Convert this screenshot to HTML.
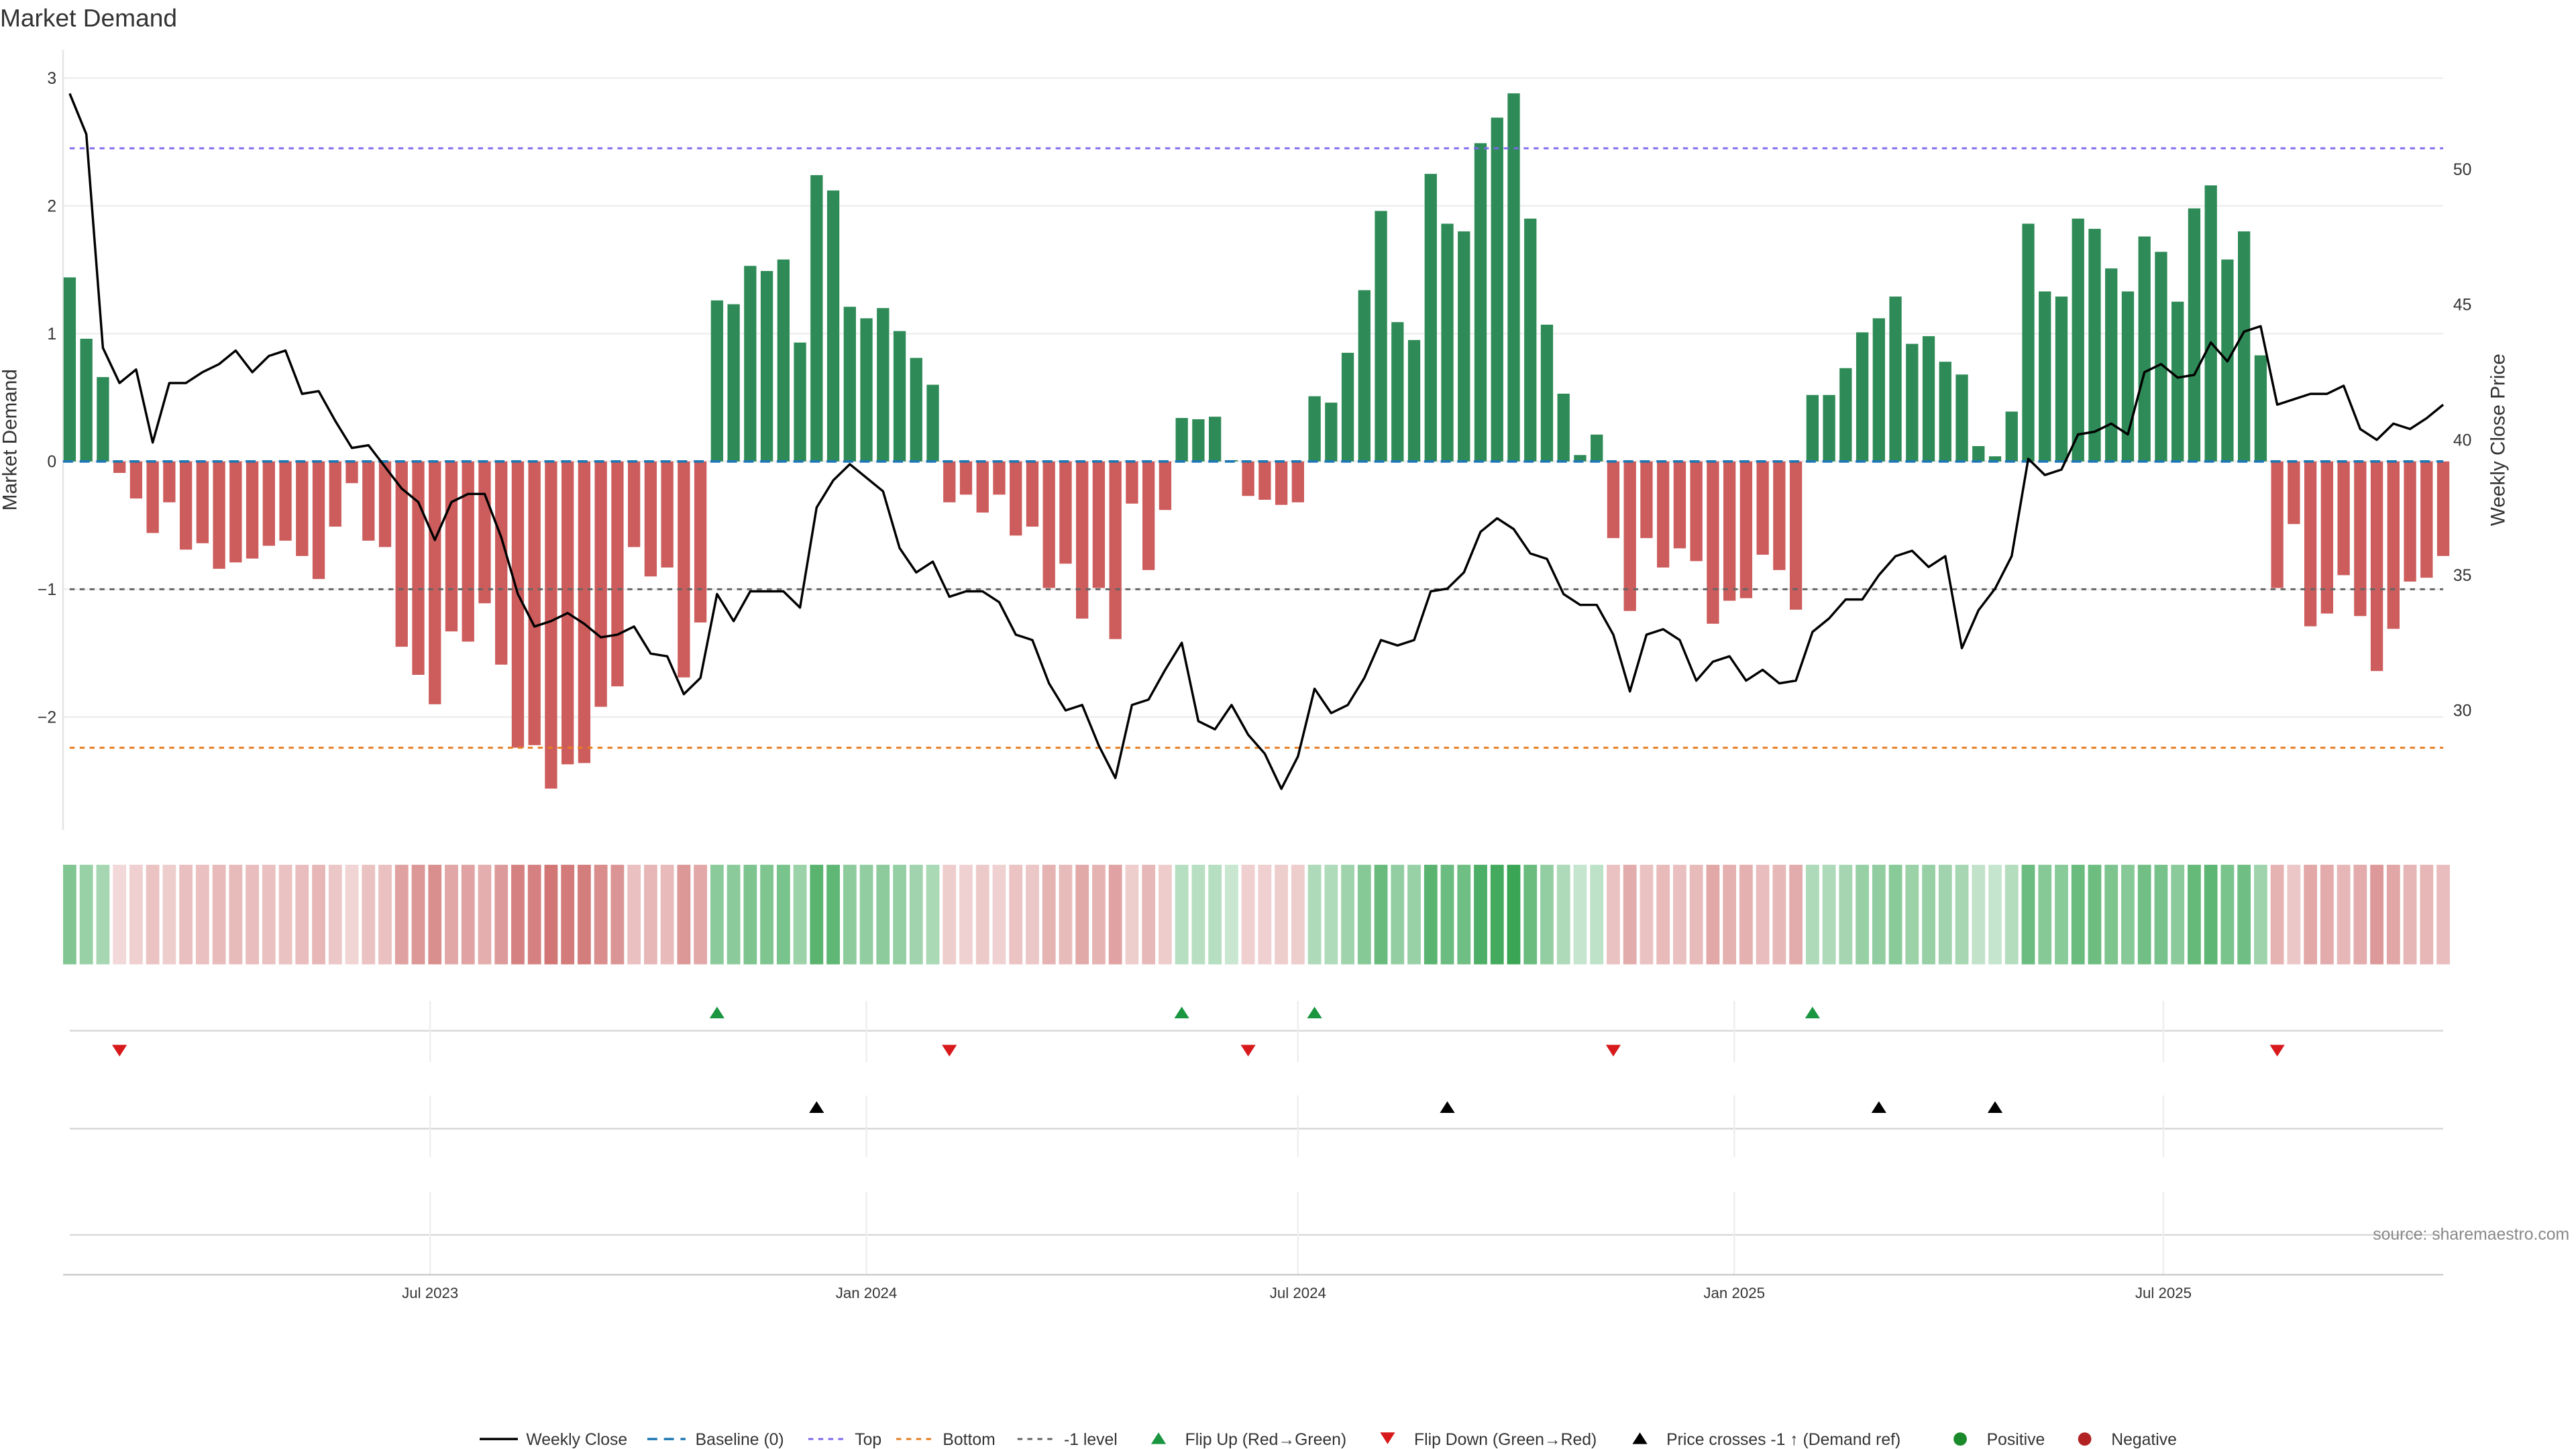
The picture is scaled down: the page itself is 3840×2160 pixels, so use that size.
<!DOCTYPE html>
<html><head><meta charset="utf-8"><style>
html,body{margin:0;padding:0;background:#fff;}
svg{display:block;font-family:"Liberation Sans","DejaVu Sans",sans-serif;}
</style></head><body>
<svg id="chart" width="3840" height="2160" viewBox="0 0 1552 873" preserveAspectRatio="none" xmlns="http://www.w3.org/2000/svg">
<text x="0" y="16" font-size="15" fill="#333">Market Demand</text>
<g id="grid"></g><g id="strip"></g><g id="bars"></g><g id="refs"></g><g id="price"></g><g id="signals"></g><g id="axes"></g>
<text x="1548" y="747" font-size="10" fill="#888" text-anchor="end">source: sharemaestro.com</text>
<g id="legend"></g>
</svg>
<script>
const demand=[1.44,0.96,0.66,-0.09,-0.29,-0.56,-0.32,-0.69,-0.64,-0.84,-0.79,-0.76,-0.66,-0.62,-0.74,-0.92,-0.51,-0.17,-0.62,-0.67,-1.45,-1.67,-1.90,-1.33,-1.41,-1.11,-1.59,-2.24,-2.22,-2.56,-2.37,-2.36,-1.92,-1.76,-0.67,-0.90,-0.83,-1.69,-1.26,
1.26,1.23,1.53,1.49,1.58,0.93,2.24,2.12,1.21,1.12,1.20,1.02,0.81,0.60,-0.32,-0.26,-0.40,-0.26,-0.58,-0.51,-0.99,-0.80,-1.23,-0.99,-1.39,-0.33,-0.85,-0.38,0.34,0.33,0.35,0.01,-0.27,-0.30,-0.34,-0.32,
0.51,0.46,0.85,1.34,1.96,1.09,0.95,2.25,1.86,1.80,2.49,2.69,2.88,1.90,1.07,0.53,0.05,0.21,-0.60,-1.17,-0.60,-0.83,-0.68,-0.78,-1.27,-1.09,-1.07,-0.73,-0.85,-1.16,
0.52,0.52,0.73,1.01,1.12,1.29,0.92,0.98,0.78,0.68,0.12,0.04,0.39,1.86,1.33,1.29,1.90,1.82,1.51,1.33,1.76,1.64,1.25,1.98,2.16,1.58,1.80,0.83,-0.99,-0.49,-1.29,-1.19,-0.89,-1.21,-1.64,-1.31,-0.94,-0.91,-0.74];
const price=[52.8,51.3,43.4,42.1,42.6,39.9,42.1,42.1,42.5,42.8,43.3,42.5,43.1,43.3,41.7,41.8,40.7,39.7,39.8,39.0,38.2,37.7,36.3,37.7,38.0,38.0,36.4,34.3,33.1,33.3,33.6,33.2,32.7,32.8,33.1,32.1,32.0,30.6,31.2,
34.3,33.3,34.4,34.4,34.4,33.8,37.5,38.5,39.1,38.6,38.1,36.0,35.1,35.5,34.2,34.4,34.4,34.0,32.8,32.6,31.0,30.0,30.2,28.7,27.5,30.2,30.4,31.5,32.5,29.6,29.3,30.2,29.1,28.4,27.1,28.3,
30.8,29.9,30.2,31.2,32.6,32.4,32.6,34.4,34.5,35.1,36.6,37.1,36.7,35.8,35.6,34.3,33.9,33.9,32.8,30.7,32.8,33.0,32.6,31.1,31.8,32.0,31.1,31.5,31.0,31.1,
32.9,33.4,34.1,34.1,35.0,35.7,35.9,35.3,35.7,32.3,33.7,34.5,35.7,39.3,38.7,38.9,40.2,40.3,40.6,40.2,42.5,42.8,42.3,42.4,43.6,42.9,44.0,44.2,41.3,41.5,41.7,41.7,42.0,40.4,40.0,40.6,40.4,40.8,41.3];
const flipUp=[39,67,75,105];
const flipDown=[3,53,71,93,133];
const priceCross=[45,83,109,116];
const leftTicks=[3,2,1,0,-1,-2];
const rightTicks=[50,45,40,35,30];
const xTickLabels=["Jul 2023","Jan 2024","Jul 2024","Jan 2025","Jul 2025"];
const xTickDates=["2023-07-01","2024-01-01","2024-07-01","2025-01-01","2025-07-01"];
const topLevel=2.45, bottomLevel=-2.24, minusOne=-1;
const startDate="2023-01-30";

const NS="http://www.w3.org/2000/svg";
function mk(parent,tag,attrs){const e=document.createElementNS(NS,tag);for(const k in attrs)e.setAttribute(k,attrs[k]);document.getElementById(parent).appendChild(e);return e;}
const x=i=>42+10*i;
const xDate=d=>42+10*((new Date(d)-new Date(startDate))/604800000);
const y=v=>278-77*v;
const yp=p=>265-16.3*(p-40);
const L=38,R=1472;

// grid
leftTicks.forEach(t=>{
  let g=mk('grid','line',{x1:L,x2:R,y1:y(t),y2:y(t),stroke:'#eeeeee','stroke-width':1});
  
  
  let tx=mk('axes','text',{x:34,y:y(t)+3.5,'font-size':10,fill:'#333','text-anchor':'end'});
  tx.textContent=t<0?'\u2212'+(-t):String(t);
  
  
});
rightTicks.forEach(t=>{
  let tx=mk('axes','text',{x:1478,y:yp(t)+3.5,'font-size':10,fill:'#333'});
  tx.textContent=String(t);
  
  
});
mk('grid','line',{x1:L,x2:L,y1:30,y2:500,stroke:'#e4e4e4','stroke-width':1});
let yt=mk('axes','text',{x:10,y:265,'font-size':12,fill:'#333','text-anchor':'middle',transform:'rotate(-90 10 265)'});
yt.textContent='Market Demand';


let yt2=mk('axes','text',{x:1509,y:265,'font-size':12,fill:'#333','text-anchor':'middle',transform:'rotate(-90 1509 265)'});
yt2.textContent='Weekly Close Price';



// baseline
let bl=mk('refs','line',{x1:L,x2:R,y1:y(0),y2:y(0),stroke:'#1f77b4','stroke-width':1.5,'stroke-dasharray':'6,4'});



// bars + strip
const maxAbs=Math.max(...demand.map(Math.abs));
demand.forEach((v,i)=>{
  const b=mk('bars','rect',{x:x(i)-3.7,width:7.4,y:Math.min(y(v),y(0)),height:Math.abs(y(v)-y(0)),fill:v>=0?'#2e8b57':'#cd5c5c'});
  
  
  const a=Math.abs(v)/maxAbs;
  const c=mk('strip','rect',{x:x(i)-4,width:8,y:521,height:60,fill:v>=0?'#3aa655':'#c85a5a','fill-opacity':v>=0?(0.28+0.72*a).toFixed(2):(0.22+0.7*a).toFixed(2)});
  
  
});

// ref lines
[[topLevel,'#7b68ee','3,3','top-level-line'],[bottomLevel,'#e67e22','3,3','bottom-level-line'],[minusOne,'#666','3,3','minus-one-level-line']].forEach(r=>{
  const l=mk('refs','line',{x1:L+4,x2:R,y1:y(r[0]),y2:y(r[0]),stroke:r[1],'stroke-width':1.2,'stroke-dasharray':r[2]});
  
  
});

// price line
const pl=mk('price','polyline',{points:price.map((p,i)=>x(i)+','+yp(p)).join(' '),fill:'none',stroke:'#000','stroke-width':1.4,'stroke-linejoin':'round'});



// signal rows
[[621,603,640],[680,660,697],[744,718,768]].forEach((r,k)=>{
  const l=mk('grid','line',{x1:42,x2:R,y1:r[0],y2:r[0],stroke:'#d8d8d8','stroke-width':1});
  
  
  xTickDates.forEach(d=>{
    const v=mk('grid','line',{x1:xDate(d),x2:xDate(d),y1:r[1],y2:r[2],stroke:'#eeeeee','stroke-width':1});
    
    
  });
});
function tri(i,yc,up,color,name){
  const cx=x(i);
  const pts=up?`${cx-4.5},${yc+3.5} ${cx+4.5},${yc+3.5} ${cx},${yc-3.5}`:`${cx-4.5},${yc-3.5} ${cx+4.5},${yc-3.5} ${cx},${yc+3.5}`;
  const t=mk('signals','polygon',{points:pts,fill:color});
  
  
}
flipUp.forEach(i=>tri(i,610,true,'#1a9641','flip-up-marker'));
flipDown.forEach(i=>tri(i,633,false,'#d7191c','flip-down-marker'));
priceCross.forEach(i=>tri(i,667,true,'#000','price-cross-marker'));

// x axis
mk('axes','line',{x1:L,x2:R,y1:768,y2:768,stroke:'#ccc','stroke-width':1});
xTickDates.forEach((d,k)=>{
  const t=mk('axes','text',{x:xDate(d),y:782,'font-size':9,fill:'#333','text-anchor':'middle'});
  t.textContent=xTickLabels[k];
  
  
});

// legend
const LY=867;
function ltext(xx,s){const t=mk('legend','text',{x:xx,y:LY+3.5,'font-size':10,fill:'#333'});t.textContent=s;}
function lline(x1,color,dash,w){const l=mk('legend','line',{x1:x1,x2:x1+23,y1:LY,y2:LY,stroke:color,'stroke-width':w,'stroke-dasharray':dash});}
lline(289,'#000','none',1.4);ltext(317,'Weekly Close');
lline(390,'#1f77b4','6,4',1.4);ltext(419,'Baseline (0)');
lline(487,'#7b68ee','3,3',1.2);ltext(515,'Top');
lline(540,'#e67e22','3,3',1.2);ltext(568,'Bottom');
lline(613,'#666','3,3',1.2);ltext(641,'-1 level');
function ltri(cx,up,color){const pts=up?`${cx-4.5},${LY+3} ${cx+4.5},${LY+3} ${cx},${LY-4}`:`${cx-4.5},${LY-4} ${cx+4.5},${LY-4} ${cx},${LY+3}`;const t=mk('legend','polygon',{points:pts,fill:color});}
ltri(698,true,'#1a9641');ltext(714,'Flip Up (Red\u2192Green)');
ltri(836,false,'#d7191c');ltext(852,'Flip Down (Green\u2192Red)');
ltri(988,true,'#000');ltext(1004,'Price crosses -1 \u2191 (Demand ref)');
let c1=mk('legend','circle',{cx:1181,cy:LY,r:4,fill:'#1a8a2a'});ltext(1197,'Positive');
let c2=mk('legend','circle',{cx:1256,cy:LY,r:4,fill:'#b22222'});ltext(1272,'Negative');
</script>
</body></html>
